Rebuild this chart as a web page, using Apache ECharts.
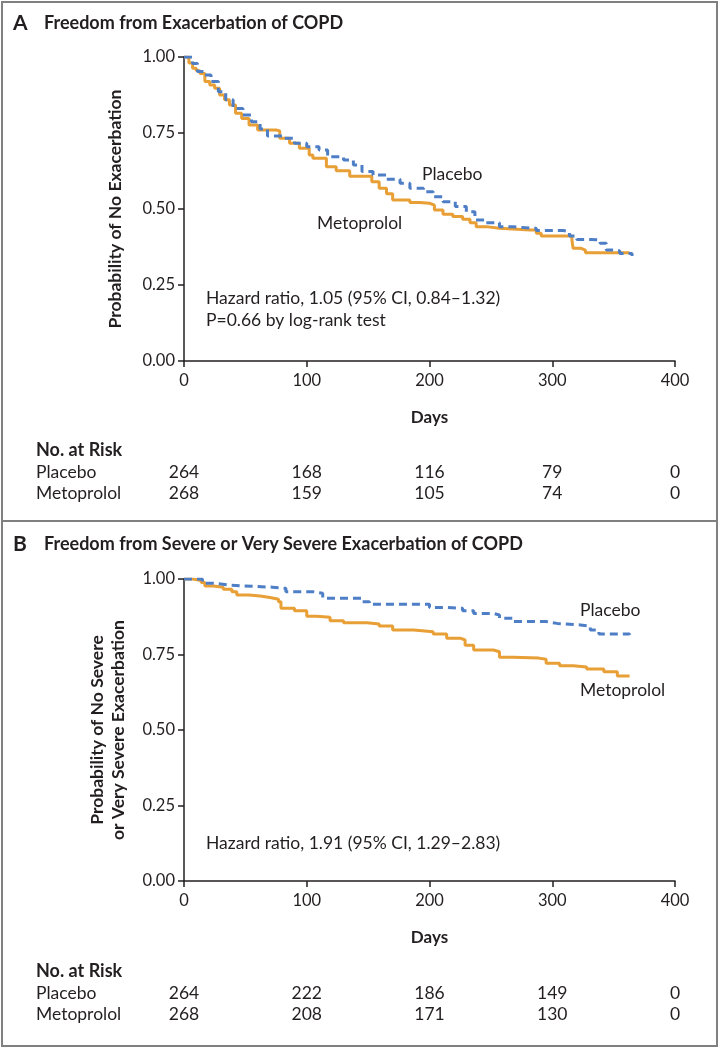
<!DOCTYPE html>
<html><head><meta charset="utf-8">
<script src="https://cdn.jsdelivr.net/npm/echarts@6/dist/echarts.min.js"></script>
<style>html,body{margin:0;padding:0;background:#fff}#c{width:720px;height:1050px}</style>
</head><body><div id="c"></div>
<script>
// ---------- data ----------
const xTickValues = [0, 100, 200, 300, 400];
const riskTimes = [0, 100, 200, 300, 400];
const groupNames = ['Placebo', 'Metoprolol'];

// Panel A: Freedom from Exacerbation of COPD
const aPlaceboDays = [0,7,11,17,22,28,34,40,48,55,62,68,77,82,90,100,110,117,130,138,145,154,165,176,184,195,203,211,221,230,237,246,257,268,282,287,295,309,314,320,331,339,344,352,355,365];
const aPlaceboSurv = [1.0,0.979,0.952,0.941,0.919,0.886,0.859,0.831,0.809,0.787,0.763,0.740,0.740,0.733,0.716,0.705,0.694,0.672,0.661,0.645,0.623,0.612,0.598,0.585,0.568,0.557,0.540,0.524,0.508,0.491,0.464,0.455,0.442,0.437,0.437,0.429,0.429,0.425,0.411,0.400,0.398,0.387,0.365,0.362,0.354,0.345];
const aMetoDays = [0,4,7,10,13,17,21,25,29,33,37,42,47,53,60,75,78,86,94,102,105,110,116,124,135,147,153,159,165,170,184,192,200,204,211,219,227,233,238,246,257,282,287,291,309,316,317,323,327,363];
const aMetoSurv = [1.0,0.980,0.963,0.955,0.946,0.919,0.908,0.897,0.875,0.859,0.842,0.815,0.798,0.776,0.760,0.757,0.733,0.716,0.700,0.678,0.667,0.667,0.639,0.626,0.608,0.608,0.590,0.568,0.550,0.530,0.521,0.519,0.513,0.497,0.483,0.475,0.466,0.455,0.442,0.437,0.431,0.431,0.420,0.411,0.411,0.398,0.371,0.365,0.356,0.356];
const aRiskPlacebo = [264, 168, 116, 79, 0];
const aRiskMeto = [268, 159, 105, 74, 0];

// Panel B: Freedom from Severe or Very Severe Exacerbation of COPD
const bPlaceboDays = [0,15,24,37,48,72,83,105,113,138,145,151,200,214,227,236,252,257,268,295,304,323,331,338,363];
const bPlaceboSurv = [1.0,0.986,0.980,0.977,0.973,0.969,0.958,0.953,0.936,0.936,0.925,0.916,0.906,0.903,0.895,0.886,0.881,0.870,0.859,0.853,0.848,0.844,0.831,0.818,0.815];
const bMetoDays = [0,7,14,17,24,32,39,43,53,62,70,77,79,90,100,108,119,130,149,159,170,187,203,214,225,229,236,252,257,268,289,295,306,317,328,342,350,353,363];
const bMetoSurv = [1.0,0.995,0.988,0.977,0.973,0.966,0.958,0.947,0.944,0.939,0.933,0.925,0.903,0.895,0.877,0.873,0.862,0.855,0.851,0.844,0.831,0.825,0.818,0.804,0.798,0.781,0.765,0.759,0.741,0.738,0.734,0.721,0.713,0.709,0.702,0.693,0.693,0.679,0.679];
const bRiskPlacebo = [264, 222, 186, 149, 0];
const bRiskMeto = [268, 208, 171, 130, 0];

// ---------- style ----------
const INK = '#231f20';
const ORANGE = '#E89F36';
const BLUE = '#4D7EC6';
const FONT = 'Lato, "Open Sans", sans-serif';

const zip = (d, s) => d.map((v, i) => [v, s[i]]);

function xAxisCfg(gi) {
  return {
    gridIndex: gi, type: 'value', min: 0, max: 400, interval: 100,
    name: 'Days', nameLocation: 'middle', nameGap: 48,
    nameTextStyle: { fontFamily: FONT, fontSize: 17, fontWeight: 'bold', color: INK },
    axisLine: { show: true, onZero: false, lineStyle: { color: INK, width: 1.5 } },
    axisTick: { show: true, length: 6, lineStyle: { color: INK, width: 1.5 } },
    axisLabel: { fontFamily: FONT, fontSize: 16.5, color: INK, margin: 11 },
    splitLine: { show: false }
  };
}
function yAxisCfg(gi, name, gap) {
  return {
    gridIndex: gi, type: 'value', min: 0, max: 1, interval: 0.25,
    name: name, nameLocation: 'middle', nameGap: gap, nameRotate: 90,
    nameTextStyle: { fontFamily: FONT, fontSize: 17.5, fontWeight: 'bold', color: INK, lineHeight: 21 },
    axisLine: { show: true, onZero: false, lineStyle: { color: INK, width: 1.5 } },
    axisTick: { show: true, length: 6, lineStyle: { color: INK, width: 1.5 } },
    axisLabel: { fontFamily: FONT, fontSize: 16.5, color: INK, margin: 9, formatter: v => v.toFixed(2) },
    splitLine: { show: false }
  };
}
function km(name, gi, data, color, dashed, z) {
  return {
    name: name, type: 'line', xAxisIndex: gi, yAxisIndex: gi, data: data,
    step: 'end', showSymbol: false, symbol: 'none', z: z,
    lineStyle: { color: color, width: 3, type: dashed ? [8, 5] : 'solid' }
  };
}

const chart = echarts.init(document.getElementById('c'), null, { renderer: 'canvas' });
chart.setOption({
  animation: false,
  backgroundColor: '#ffffff',
  grid: [
    { left: 184, top: 57, width: 491, height: 304 },
    { left: 184, top: 579, width: 491, height: 302 }
  ],
  xAxis: [xAxisCfg(0), xAxisCfg(1)],
  yAxis: [
    yAxisCfg(0, 'Probability of No Exacerbation', 58),
    yAxisCfg(1, 'Probability of No Severe\nor Very Severe Exacerbation', 55)
  ],
  series: [
    km('Metoprolol', 0, zip(aMetoDays, aMetoSurv), ORANGE, false, 2),
    km('Placebo', 0, zip(aPlaceboDays, aPlaceboSurv), BLUE, true, 3),
    km('Metoprolol', 1, zip(bMetoDays, bMetoSurv), ORANGE, false, 2),
    km('Placebo', 1, zip(bPlaceboDays, bPlaceboSurv), BLUE, true, 3)
  ]
});

function txt(text, x, y, opt) {
  opt = opt || {};
  return {
    type: 'text', x: x, y: y, z: 10,
    style: {
      text: text, fill: INK,
      font: (opt.bold ? 'bold ' : '') + (opt.size || 17.5) + 'px ' + FONT,
      textAlign: opt.align || 'left', textVerticalAlign: 'middle',
      align: opt.align || 'left', verticalAlign: 'middle'
    }
  };
}

const g = [];
// frames
g.push({ type: 'rect', shape: { x: 2, y: 2, width: 715, height: 519 }, style: { fill: 'none', stroke: '#808080', lineWidth: 2 }, z: 0 });
g.push({ type: 'rect', shape: { x: 2, y: 521, width: 715, height: 525 }, style: { fill: 'none', stroke: '#808080', lineWidth: 2 }, z: 0 });
// titles
g.push(txt('A', 13, 23, { bold: true, size: 21 }));
g.push(txt('Freedom from Exacerbation of COPD', 44, 23, { bold: true, size: 18 }));
g.push(txt('B', 13, 544, { bold: true, size: 21 }));
g.push(txt('Freedom from Severe or Very Severe Exacerbation of COPD', 44, 544, { bold: true, size: 18 }));
// annotations A
g.push(txt('Placebo', 422, 174));
g.push(txt('Metoprolol', 317, 223));
g.push(txt('Hazard ratio, 1.05 (95% CI, 0.84\u20131.32)', 206, 298));
g.push(txt('P=0.66 by log-rank test', 206, 320));
// annotations B
g.push(txt('Placebo', 580, 610));
g.push(txt('Metoprolol', 580, 690));
g.push(txt('Hazard ratio, 1.91 (95% CI, 1.29\u20132.83)', 206, 843));

// risk tables
function riskTable(gi, yHead, rows) {
  g.push(txt('No. at Risk', 36, yHead, { bold: true, size: 18 }));
  rows.forEach((r, ri) => {
    const y = yHead + 22 + ri * 21;
    g.push(txt(groupNames[ri], 36, y));
    riskTimes.forEach((t, ti) => {
      const px = chart.convertToPixel({ xAxisIndex: gi }, t);
      g.push(txt(String(r[ti]), px, y, { align: 'center' }));
    });
  });
}
riskTable(0, 450, [aRiskPlacebo, aRiskMeto]);
riskTable(1, 971, [bRiskPlacebo, bRiskMeto]);

chart.setOption({ graphic: g });
</script>
</body></html>
